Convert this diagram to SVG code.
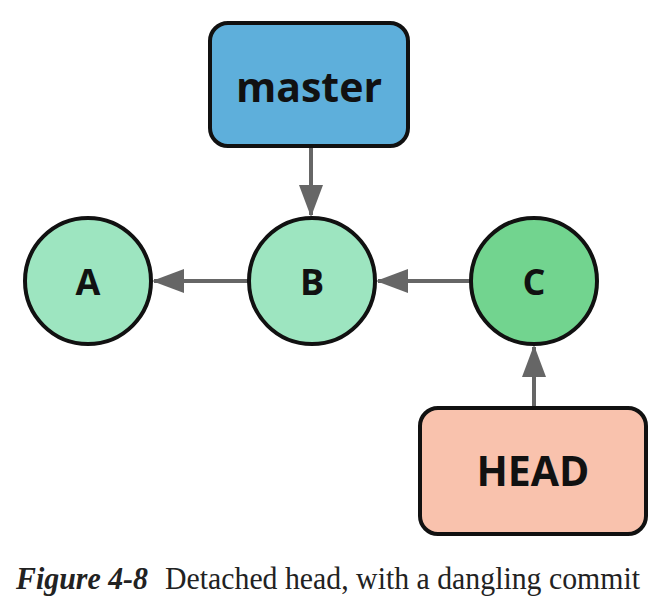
<svg xmlns="http://www.w3.org/2000/svg" width="663" height="605" viewBox="0 0 663 605">
<defs>
<style>
.box{stroke:#111;stroke-width:4}
.lbl{font-family:"Open Sans","Noto Sans",sans-serif;font-weight:bold;fill:#111;text-anchor:middle}
.edge{stroke:#666;stroke-width:4;fill:none}
.cap{font-family:"Liberation Serif",serif;font-size:31px;fill:#222}
</style>
<marker id="ah" markerWidth="8" markerHeight="6" refX="7.5" refY="3" orient="auto" markerUnits="strokeWidth">
<path d="M0,0 L8,3 L0,6 Z" fill="#666"/>
</marker>
</defs>
<rect width="663" height="605" fill="#fff"/>
<g id="connectors">
<line class="edge" x1="311" y1="147" x2="311" y2="215" marker-end="url(#ah)"/>
<line class="edge" x1="248" y1="281" x2="154" y2="281" marker-end="url(#ah)"/>
<line class="edge" x1="470" y1="281" x2="378" y2="281" marker-end="url(#ah)"/>
<line class="edge" x1="534" y1="407" x2="534" y2="347" marker-end="url(#ah)"/>
</g>
<g id="master">
<rect class="box" x="210" y="23" width="198" height="123" rx="18" fill="#5EAFDB"/>
<text class="lbl" x="309" y="102" font-size="41">master</text>
</g>
<g id="A">
<circle class="box" cx="88" cy="281" r="63" fill="#9DE5C0"/>
<text class="lbl" x="88" y="295" font-size="36">A</text>
</g>
<g id="B">
<circle class="box" cx="312" cy="281" r="63" fill="#9DE5C0"/>
<text class="lbl" x="312" y="295" font-size="36">B</text>
</g>
<g id="C">
<circle class="box" cx="534" cy="281" r="63" fill="#72D48F"/>
<text class="lbl" x="534" y="295" font-size="36">C</text>
</g>
<g id="HEAD">
<rect class="box" x="420" y="408" width="226" height="126" rx="18" fill="#F9C2AD"/>
<text class="lbl" x="533" y="486" font-size="41">HEAD</text>
</g>
<text class="cap" x="16" y="589"><tspan font-weight="bold" font-style="italic" textLength="132" lengthAdjust="spacingAndGlyphs">Figure 4-8</tspan><tspan x="165" textLength="475" lengthAdjust="spacingAndGlyphs">Detached head, with a dangling commit</tspan></text>
</svg>
